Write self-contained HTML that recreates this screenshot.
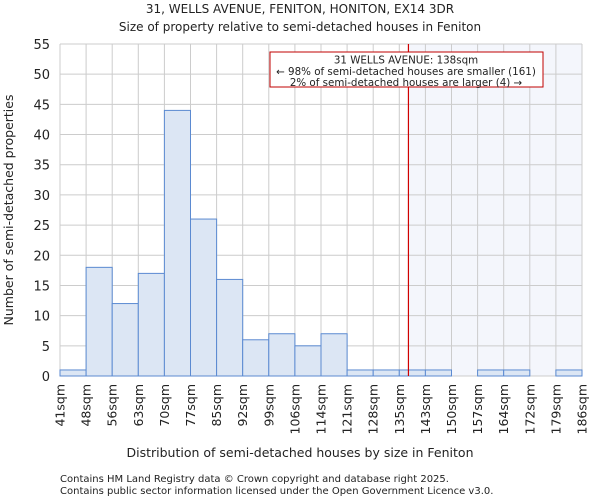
<!DOCTYPE html>
<html><head><meta charset="utf-8"><style>
body{margin:0;background:#fff;font-family:"DejaVu Sans","Liberation Sans",sans-serif}
svg text{font-family:"DejaVu Sans","Liberation Sans",sans-serif;fill:#222}
</style></head><body>
<svg id="c" width="600" height="500" xmlns="http://www.w3.org/2000/svg">
<text x="300" y="13" text-anchor="middle" font-size="12">31, WELLS AVENUE, FENITON, HONITON, EX14 3DR</text>
<text x="300" y="31" text-anchor="middle" font-size="12">Size of property relative to semi-detached houses in Feniton</text>
<g id="grid"></g><g id="bars"></g><g id="ann"></g><g id="axes"></g>
<text x="300" y="457" text-anchor="middle" font-size="12.5">Distribution of semi-detached houses by size in Feniton</text>
<text transform="translate(13,210) rotate(-90)" text-anchor="middle" font-size="12.5">Number of semi-detached properties</text>
<text x="60" y="482" font-size="10" fill="#444">Contains HM Land Registry data © Crown copyright and database right 2025.</text>
<text x="60" y="494" font-size="10" fill="#444">Contains public sector information licensed under the Open Government Licence v3.0.</text>
</svg>
<script>
const categories=["41sqm","48sqm","56sqm","63sqm","70sqm","77sqm","85sqm","92sqm","99sqm","106sqm","114sqm","121sqm","128sqm","135sqm","143sqm","150sqm","157sqm","164sqm","172sqm","179sqm","186sqm"];
const counts=[1,18,12,17,44,26,16,6,7,5,7,1,1,1,1,0,1,1,0,1];
const yTicks=[0,5,10,15,20,25,30,35,40,45,50,55];
const markerBin=13.35;
const X0=60,X1=582,Y0=376,Y1=44,NS="http://www.w3.org/2000/svg";
const xs=i=>X0+i*(X1-X0)/counts.length;
const ys=v=>Y0-v*(Y0-Y1)/55;
function mk(p,t,a){const e=document.createElementNS(NS,t);for(const k in a)e.setAttribute(k,a[k]);document.getElementById(p).appendChild(e);return e;}
const mx=xs(markerBin);
let r=mk('grid','rect',{x:mx,y:Y1,width:X1-mx,height:Y0-Y1,fill:'#f4f6fc'});


for(let i=0;i<=counts.length;i++){let l=mk('grid','line',{x1:xs(i),x2:xs(i),y1:Y1,y2:Y0,stroke:'#cccccc'});

}
yTicks.forEach(v=>{let l=mk('grid','line',{x1:X0,x2:X1,y1:ys(v),y2:ys(v),stroke:'#cccccc'});


let t=mk('axes','text',{x:X0-10,y:ys(v)+5,'text-anchor':'end','font-size':'13'});t.textContent=v;

});
counts.forEach((c,i)=>{if(c<=0)return;let b=mk('bars','rect',{x:xs(i),y:ys(c),width:xs(i+1)-xs(i),height:Y0-ys(c),fill:'#dce6f4',stroke:'#5b8ad1','stroke-width':1});

});
categories.forEach((c,i)=>{let t=mk('axes','text',{transform:`translate(${xs(i)+4.5},384) rotate(-90)`,'text-anchor':'end','font-size':'12.5'});t.textContent=c;

});
let ml=mk('ann','line',{x1:mx,x2:mx,y1:Y1,y2:Y0,stroke:'#d00000','stroke-width':1.2});


let bx=mk('ann','rect',{x:270,y:52,width:273,height:35,fill:'#fff',stroke:'#c00000'});


["31 WELLS AVENUE: 138sqm","← 98% of semi-detached houses are smaller (161)","2% of semi-detached houses are larger (4) →"].forEach((s,i)=>{let t=mk('ann','text',{x:406,y:63.5+i*11.3,'text-anchor':'middle','font-size':'10.3'});t.textContent=s;

});
</script>
</body></html>
